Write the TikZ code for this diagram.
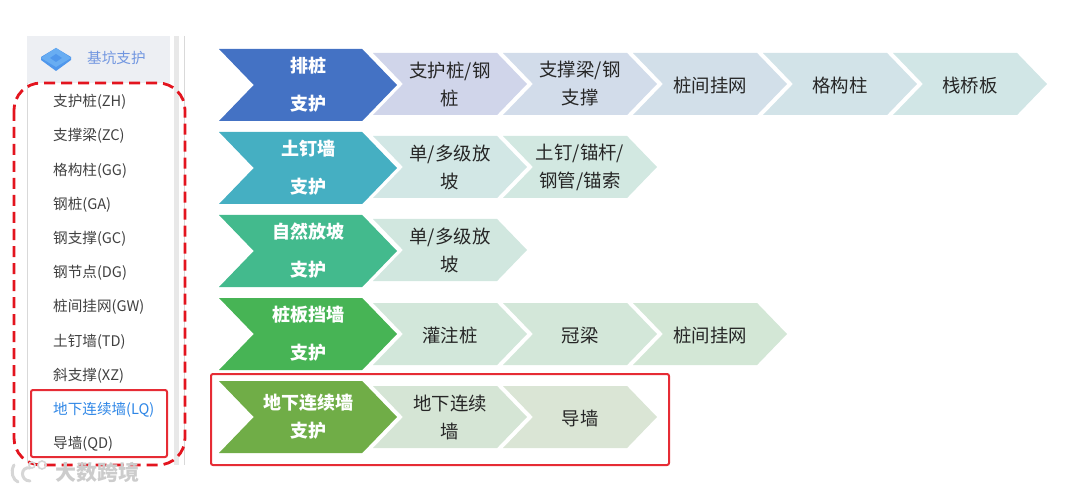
\documentclass[tikz,border=0pt]{standalone}
\usepackage{fontspec}
\setmainfont{Noto Sans CJK SC}
\usetikzlibrary{shapes.symbols}

\definecolor{headblue}{HTML}{4472C4}
\definecolor{headteal}{HTML}{45AFC2}
\definecolor{headmint}{HTML}{43BA8D}
\definecolor{headgreen}{HTML}{47B455}
\definecolor{headolive}{HTML}{70AD47}
\definecolor{markred}{HTML}{E3141E}
\definecolor{sidegrey}{HTML}{EDEFF3}
\definecolor{iconblue}{HTML}{4F97EC}
\definecolor{icontop}{HTML}{68ADF2}
\definecolor{titleblue}{HTML}{7196E0}
\definecolor{activeblue}{HTML}{2E86E6}

\begin{document}
\begin{tikzpicture}[x=1pt, y=-1pt,
chevron/.style={shape=signal, signal from=west, signal to=east, signal pointer angle=92, outer sep=0pt, inner sep=0pt, align=center},
headbox/.style={chevron, minimum width=178pt, minimum height=72pt, text=white, font=\fontsize{18}{38}\selectfont\bfseries},
subbox/.style={chevron, minimum width=154pt, minimum height=62pt, text=black!85, font=\fontsize{18.4}{28}\selectfont, execute at begin node={\rule{0pt}{19pt}}},
itembox/.style={anchor=west, inner sep=0pt, text=black!75, font=\fontsize{14.6}{16}\selectfont},
redbox/.style={draw=markred!90!white, line width=2pt, rounded corners=2pt},
markline/.style={black!16, line width=3pt, line cap=round}]
%
\useasboundingbox (0,0) rectangle (1080,492);
% side panel
\fill[sidegrey] (27,36) rectangle (170,83);
\fill[black!9] (174,36) rectangle (179,465);
\draw[black!15, line width=0.8pt] (27,83) -- (27,462);
\draw[black!15, line width=0.8pt] (184,36) -- (184,465);
\fill[iconblue] (41,60) -- (56,71) -- (71,60) -- (71,57) -- (56,48) -- (41,57) -- cycle;
\fill[icontop] (41,58) -- (56,67) -- (71,58) -- (56,48) -- cycle;
\fill[iconblue] (50,58) -- (56,62) -- (62,58) -- (56,54) -- cycle;
\node[itembox, text=titleblue] (jikeng) at (87,58) {基坑支护};
\node[itembox] (zh) at (53,102) {支护桩(ZH)};
\node[itembox, yshift=-34.2pt] (zc) at (zh.west) {支撑梁(ZC)};
\node[itembox, yshift=-34.2pt] (gg) at (zc.west) {格构柱(GG)};
\node[itembox, yshift=-34.2pt] (ga) at (gg.west) {钢桩(GA)};
\node[itembox, yshift=-34.2pt] (gc) at (ga.west) {钢支撑(GC)};
\node[itembox, yshift=-34.2pt] (dg) at (gc.west) {钢节点(DG)};
\node[itembox, yshift=-34.2pt] (gw) at (dg.west) {桩间挂网(GW)};
\node[itembox, yshift=-34.2pt] (td) at (gw.west) {土钉墙(TD)};
\node[itembox, yshift=-34.2pt] (xz) at (td.west) {斜支撑(XZ)};
\node[itembox, yshift=-34.2pt, text=activeblue] (lq) at (xz.west) {地下连续墙(LQ)};
\node[itembox, yshift=-34.2pt] (qd) at (lq.west) {导墙(QD)};
% row 1
\node[headbox, fill=headblue] (paizhuang) at (308,85) {排桩\\支护};
\node[subbox, xshift=142pt, yshift=1pt, fill={rgb,255:red,208;green,213;blue,234}] (zhihuzhuang) at (paizhuang) {支护桩/钢\\桩};
\node[subbox, xshift=130pt, fill={rgb,255:red,210;green,220;blue,234}] (zhicheng) at (zhihuzhuang) {支撑梁/钢\\支撑};
\node[subbox, xshift=130pt, fill={rgb,255:red,210;green,223;blue,233}] (guawang) at (zhicheng) {桩间挂网};
\node[subbox, xshift=130pt, fill={rgb,255:red,210;green,227;blue,232}] (gegou) at (guawang) {格构柱};
\node[subbox, xshift=130pt, fill={rgb,255:red,209;green,230;blue,230}] (zhanqiao) at (gegou) {栈桥板};
% row 2
\node[headbox, fill=headteal] (tuding) at (308,168) {土钉墙\\支护};
\node[subbox, xshift=142pt, yshift=1pt, fill={rgb,255:red,210;green,231;blue,229}] (fangpo) at (tuding) {单/多级放\\坡};
\node[subbox, xshift=130pt, fill={rgb,255:red,210;green,232;blue,225}] (maogan) at (fangpo) {土钉/锚杆/\\钢管/锚索};
% row 3
\node[headbox, fill=headmint] (ziran) at (308,251) {自然放坡\\支护};
\node[subbox, xshift=142pt, yshift=1pt, fill={rgb,255:red,209;green,231;blue,223}] (fangpob) at (ziran) {单/多级放\\坡};
% row 4
\node[headbox, fill=headgreen] (zhuangban) at (308,334) {桩板挡墙\\支护};
\node[subbox, xshift=142pt, fill={rgb,255:red,210;green,231;blue,218}] (guanzhu) at (zhuangban) {灌注桩};
\node[subbox, xshift=130pt, fill={rgb,255:red,211;green,231;blue,217}] (guanliang) at (guanzhu) {冠梁};
\node[subbox, xshift=130pt, fill={rgb,255:red,211;green,231;blue,214}] (guawangb) at (guanliang) {桩间挂网};
% row 5
\node[headbox, fill=headolive, font=\fontsize{18}{28}\selectfont\bfseries] (dixia) at (308,417) {地下连续墙\\支护};
\node[subbox, xshift=142pt, fill={rgb,255:red,213;green,229;blue,213}] (lianxu) at (dixia) {地下连续\\墙};
\node[subbox, xshift=130pt, fill={rgb,255:red,218;green,229;blue,213}] (daoqiang) at (lianxu) {导墙};
% red marks
\draw[markred, line width=2.8pt, rounded corners=27pt, dash pattern=on 11pt off 6pt] (14,83) rectangle (185,465);
\draw[redbox] (31,390) rectangle (167,457);
\draw[redbox] (211,374) rectangle (669,465);
% watermark
\draw[markline] (14,465) .. controls (10,472) and (13,480) .. (18,482);
\draw[markline] (30,468) .. controls (20,466) and (20,481) .. (30,481);
\draw[markline, line width=1.6pt] (32,465) circle (3pt);
\draw[markline, line width=1.6pt] (42,465) circle (4pt);
\node[inner sep=0pt, text=black!20, font=\fontsize{21}{23}\selectfont\bfseries] (dashu) at (98,472) {大数跨境};
\end{tikzpicture}
\end{document}
